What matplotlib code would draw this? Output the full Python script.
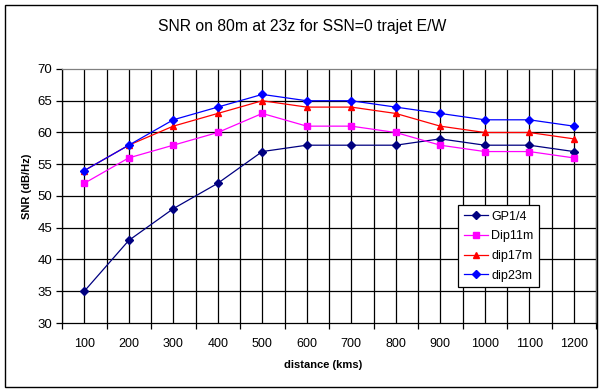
import numpy as np
import matplotlib
matplotlib.use("Agg")
import matplotlib.pyplot as plt
from matplotlib.patches import Rectangle

plt.rcParams["font.family"] = ["Liberation Sans", "DejaVu Sans"]

# ----- data -------------------------------------------------------------------
distances = ["100", "200", "300", "400", "500", "600", "700", "800",
             "900", "1000", "1100", "1200"]
gp14 = [35, 43, 48, 52, 57, 58, 58, 58, 59, 58, 58, 57]
dip11m = [52, 56, 58, 60, 63, 61, 61, 60, 58, 57, 57, 56]
dip17m = [54, 58, 61, 63, 65, 64, 64, 63, 61, 60, 60, 59]
dip23m = [54, 58, 62, 64, 66, 65, 65, 64, 63, 62, 62, 61]

series = [
    ("GP1/4", gp14, "#000080", "D", 3.8),
    ("Dip11m", dip11m, "#FF00FF", "s", 4.5),
    ("dip17m", dip17m, "#FF0000", "^", 5.0),
    ("dip23m", dip23m, "#0000FF", "D", 3.8),
]

W, H = 604, 392
fig = plt.figure(figsize=(W / 100, H / 100), dpi=100)

# outer chart frame
fig.patches.append(Rectangle((5 / W, 1 - 387 / H), 592 / W, 382 / H,
                             transform=fig.transFigure, fill=False,
                             edgecolor="black", lw=1.0))

ax = fig.add_axes([62 / W, 1 - 323 / H, 534 / W, 254 / H])
x = np.arange(len(distances))

for name, vals, col, mk, ms in series:
    ax.plot(x, vals, color=col, lw=0.9, marker=mk, ms=ms, mfc=col, mec=col,
            label=name, zorder=3)

ax.set_xlim(-0.5, len(distances) - 0.5)
ax.set_ylim(30, 70)
ax.set_yticks(np.arange(30, 71, 5))
ax.set_xticks(x)
ax.set_xticklabels(distances)
ax.set_xticks(np.arange(-0.5, len(distances), 1.0), minor=True)

# grid at category centres and boundaries
for xv in np.arange(-0.5, len(distances), 0.5):
    ax.axvline(xv, color="black", lw=0.9, zorder=1)
for yv in np.arange(35, 70, 5):
    ax.axhline(yv, color="black", lw=0.9, zorder=1)

ax.tick_params(axis="x", which="major", length=0, pad=11, labelsize=9)
ax.tick_params(axis="x", which="minor", length=4, width=0.9, direction="out")
ax.tick_params(axis="y", length=4, width=0.9, direction="out", labelsize=9.5, pad=3)

for side in ("top", "right"):
    ax.spines[side].set_color("#808080")
    ax.spines[side].set_linewidth(0.9)
for side in ("left", "bottom"):
    ax.spines[side].set_color("black")
    ax.spines[side].set_linewidth(0.9)

fig.text(0.5, 1 - 26 / H, "SNR on 80m at 23z for SSN=0 trajet E/W",
         ha="center", va="center", fontsize=11.3)
fig.text(323 / W, 1 - 365 / H, "distance (kms)", ha="center", va="center",
         fontsize=8, fontweight="bold")
fig.text(27 / W, 1 - 186 / H, "SNR (dB/Hz)", ha="center", va="center",
         rotation=90, fontsize=8, fontweight="bold")

leg = ax.legend(loc="upper left", bbox_to_anchor=(0.742, 0.465), borderaxespad=0,
                fancybox=False, framealpha=1, edgecolor="black", fontsize=9,
                labelspacing=0.62, handlelength=1.9, handletextpad=0.3,
                borderpad=0.45)
leg.get_frame().set_linewidth(0.9)

fig.savefig("out.png", dpi=100)
